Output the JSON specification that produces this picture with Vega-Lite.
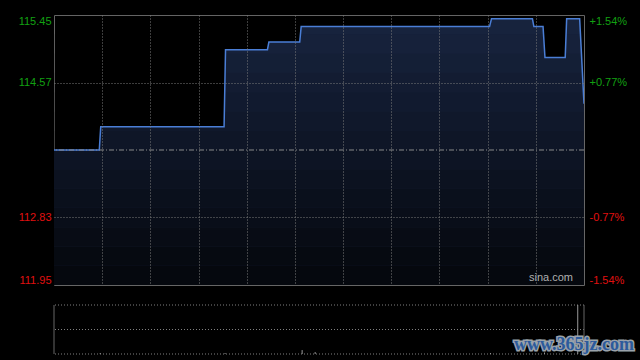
{
  "$schema": "https://vega.github.io/schema/vega-lite/v6.json",
  "background": "#000000",
  "padding": {"left": 17, "top": 14, "right": 6, "bottom": 5},
  "autosize": {"type": "pad"},
  "spacing": 18,
  "config": {
    "view": {"stroke": "#666666", "strokeWidth": 1},
    "axis": {
      "minExtent": 0,
      "labelFont": "Liberation Sans",
      "labelFontSize": 11,
      "domain": false,
      "ticks": false,
      "tickSize": 0,
      "gridColor": "#7a7a7a",
      "gridDash": [1, 2],
      "gridWidth": 1
    }
  },
  "datasets": {
    "price": [
      {"t": 0, "p": 113.70},
      {"t": 9.4, "p": 113.70},
      {"t": 9.7, "p": 114.00},
      {"t": 35.3, "p": 114.00},
      {"t": 35.6, "p": 115.00},
      {"t": 44.3, "p": 115.00},
      {"t": 44.6, "p": 115.10},
      {"t": 51.0, "p": 115.10},
      {"t": 51.3, "p": 115.30},
      {"t": 90.4, "p": 115.30},
      {"t": 90.8, "p": 115.40},
      {"t": 99.3, "p": 115.40},
      {"t": 99.6, "p": 115.30},
      {"t": 101.5, "p": 115.30},
      {"t": 101.9, "p": 114.90},
      {"t": 106.1, "p": 114.90},
      {"t": 106.4, "p": 115.40},
      {"t": 109.1, "p": 115.40},
      {"t": 110, "p": 114.30}
    ],
    "shade": [
      {"hi": 115.45, "lo": 115.20, "k": 0},
      {"hi": 115.20, "lo": 114.95, "k": 1},
      {"hi": 114.95, "lo": 114.70, "k": 2},
      {"hi": 114.70, "lo": 114.45, "k": 3},
      {"hi": 114.45, "lo": 114.20, "k": 4},
      {"hi": 114.20, "lo": 113.95, "k": 5},
      {"hi": 113.95, "lo": 113.70, "k": 6},
      {"hi": 113.70, "lo": 113.45, "k": 7},
      {"hi": 113.45, "lo": 113.20, "k": 8},
      {"hi": 113.20, "lo": 112.95, "k": 9},
      {"hi": 112.95, "lo": 112.70, "k": 10},
      {"hi": 112.70, "lo": 112.45, "k": 11},
      {"hi": 112.45, "lo": 112.20, "k": 12},
      {"hi": 112.20, "lo": 111.95, "k": 13}
    ]
  },
  "vconcat": [
    {
      "width": 530,
      "height": 270,
      "resolve": {"scale": {"y": "independent"}},
      "layer": [
        {
          "layer": [
            {
              "data": {"name": "price"},
              "mark": {"type": "area", "interpolate": "linear", "clip": true, "fillOpacity": 1, "color": "#18243f"},
              "encoding": {
                "x": {
                  "field": "t",
                  "type": "quantitative",
                  "scale": {"domain": [0, 110], "nice": false, "zero": false},
                  "axis": {"values": [10, 20, 30, 40, 50, 60, 70, 80, 90, 100], "grid": true, "labels": false, "title": null, "zindex": 1}
                },
                "y": {
                  "field": "p",
                  "type": "quantitative",
                  "scale": {"domain": [111.95, 115.45], "nice": false, "zero": false},
                  "axis": {
                    "values": [111.95, 112.83, 114.57, 115.45],
                    "format": ".2f",
                    "grid": true,
                    "zindex": 1,
                    "gridColor": {"condition": {"test": "datum.value < 112 || datum.value > 115.4", "value": "transparent"}, "value": "#7a7a7a"},
                    "labelColor": {"condition": {"test": "datum.value > 113.7", "value": "#12a012"}, "value": "#e01010"},
                    "labelFlush": true,
                    "labelPadding": 3,
                    "title": null
                  }
                }
              }
            },
            {
              "data": {"name": "shade"},
              "mark": {"type": "rect", "color": "#000000"},
              "encoding": {
                "y": {"field": "hi", "type": "quantitative"},
                "y2": {"field": "lo"},
                "opacity": {"field": "k", "type": "quantitative", "scale": {"domain": [0, 13], "range": [0.02, 0.78]}, "legend": null}
              }
            },
            {
              "data": {"name": "price"},
              "mark": {"type": "line", "interpolate": "linear", "clip": true, "color": "#4a7ed6", "strokeWidth": 1.5},
              "encoding": {
                "x": {"field": "t", "type": "quantitative"},
                "y": {"field": "p", "type": "quantitative"}
              }
            },
            {
              "data": {"values": [{"label": "sina.com"}]},
              "mark": {"type": "text", "align": "right", "baseline": "bottom", "dx": -11, "dy": -2, "color": "#b0b0b0", "font": "Liberation Sans", "fontSize": 11},
              "encoding": {
                "x": {"datum": 110, "type": "quantitative"},
                "y": {"datum": 111.95, "type": "quantitative"},
                "text": {"field": "label"}
              }
            }
          ]
        },
        {
          "data": {"values": [{}]},
          "mark": {"type": "rule", "color": "#8a8a8a", "strokeDash": [5, 2, 1, 2]},
          "encoding": {
            "y": {
              "datum": 113.70,
              "type": "quantitative",
              "scale": {"domain": [111.95, 115.45], "nice": false, "zero": false},
              "axis": {
                "orient": "right",
                "values": [111.95, 112.83, 114.57, 115.45],
                "labelExpr": "(datum.value > 113.7 ? '+' : '-') + format(abs(datum.value - 113.7) / 113.7 * 100, '.2f') + '%'",
                "labelColor": {"condition": {"test": "datum.value > 113.7", "value": "#12a012"}, "value": "#e01010"},
                "labelFlush": true,
                "labelPadding": 5,
                "grid": false,
                "title": null
              }
            }
          }
        }
      ]
    },
    {
      "width": 530,
      "height": 49,
      "view": {"stroke": null},
      "layer": [
        {
          "data": {"values": [{"g": 0}, {"g": 50}, {"g": 100}]},
          "mark": {"type": "rule", "color": "#808080", "strokeDash": [1, 2]},
          "encoding": {
            "y": {"field": "g", "type": "quantitative", "scale": {"domain": [0, 100], "nice": false}, "axis": null}
          }
        },
        {
          "data": {"values": [{"b": 0}, {"b": 110}]},
          "mark": {"type": "rule", "color": "#666666"},
          "encoding": {
            "x": {"field": "b", "type": "quantitative", "scale": {"domain": [0, 110], "nice": false, "zero": false}, "axis": null}
          }
        },
        {
          "data": {
            "values": [
              {"t": 9.6, "v": 2},
              {"t": 35.5, "v": 2},
              {"t": 51.5, "v": 8},
              {"t": 54.2, "v": 4},
              {"t": 90.6, "v": 2},
              {"t": 101.8, "v": 3},
              {"t": 108.7, "v": 100}
            ]
          },
          "mark": {"type": "rule", "color": "#9a9a9a"},
          "encoding": {
            "x": {"field": "t", "type": "quantitative"},
            "y": {"field": "v", "type": "quantitative"},
            "y2": {"datum": 0}
          }
        },
        {
          "data": {"values": [{"label": "www.365jz.com"}]},
          "mark": {"type": "text", "align": "right", "baseline": "alphabetic", "dx": 50, "dy": -4, "font": "Liberation Serif", "fontWeight": "bold", "fontSize": 18, "color": "#9aa2aa", "stroke": "#9aa2aa", "strokeWidth": 3},
          "encoding": {
            "x": {"datum": 110, "type": "quantitative"},
            "y": {"datum": 0, "type": "quantitative"},
            "text": {"field": "label"}
          }
        },
        {
          "data": {"values": [{"label": "www.365jz.com"}]},
          "mark": {"type": "text", "align": "right", "baseline": "alphabetic", "dx": 50, "dy": -4, "font": "Liberation Serif", "fontWeight": "bold", "fontSize": 18, "color": "#2c5a9c"},
          "encoding": {
            "x": {"datum": 110, "type": "quantitative"},
            "y": {"datum": 0, "type": "quantitative"},
            "text": {"field": "label"}
          }
        }
      ]
    }
  ]
}
